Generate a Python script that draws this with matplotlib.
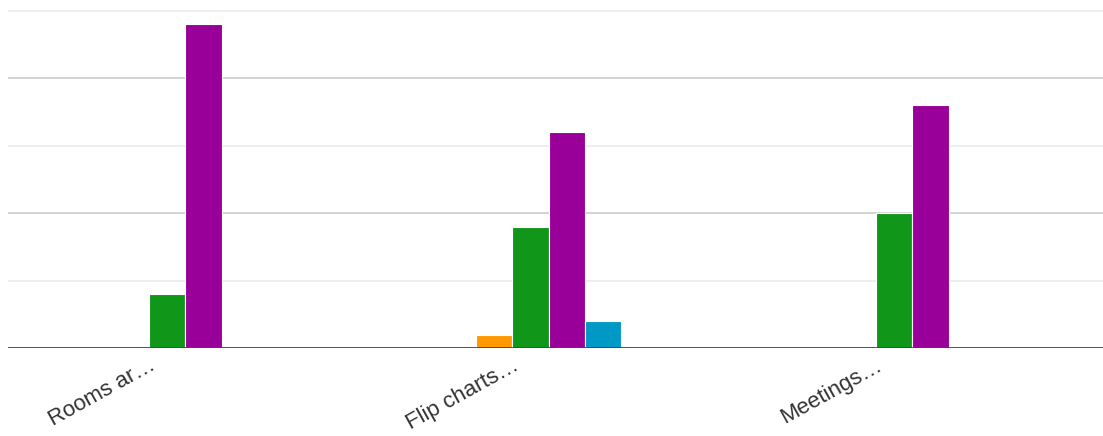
import numpy as np
import matplotlib.pyplot as plt

plt.rcParams['font.family'] = ['Liberation Sans', 'DejaVu Sans']

categories = ['Rooms ar\u2026', 'Flip charts\u2026', 'Meetings\u2026']

# one list per answer option, in the order they sit inside each group
option_1 = [0, 0, 0]
option_2 = [0, 0, 0]
option_3 = [0, 1, 0]
option_4 = [4, 9, 10]
option_5 = [24, 16, 18]
option_6 = [0, 2, 0]

series = [option_1, option_2, option_3, option_4, option_5, option_6]
colors = ['#3366cc', '#dc3912', '#ff9900', '#109618', '#990099', '#0099c6']

fig = plt.figure(figsize=(11.03, 4.36), dpi=100)
ax = fig.add_axes([0.0073, 0.2018, 0.9927, 0.7982])

x = np.arange(len(categories))
width = 0.1
n = len(series)
for k, (vals, col) in enumerate(zip(series, colors)):
    offs = (k - (n - 1) / 2) * width
    for xi, v in zip(x, vals):
        if v > 0:
            ax.bar(xi + offs, v, width=width, color=col,
                   edgecolor='white', linewidth=0.8, zorder=2)

ax.set_ylim(0, 25.78)
ax.set_xlim(-0.388, 2.625)

# gridlines: darker every 10, lighter in between
for y in [5, 15, 25]:
    ax.axhline(y, color='#ebebeb', linewidth=1.2, zorder=1)
for y in [10, 20]:
    ax.axhline(y, color='#cccccc', linewidth=1.2, zorder=1)
ax.axhline(0, color='#444444', linewidth=2.0, zorder=3)

for s in ax.spines.values():
    s.set_visible(False)
ax.set_yticks([])
ax.set_xticks(x)
ax.set_xticklabels(categories, rotation=29, ha='right',
                   rotation_mode='anchor', fontsize=16, color='#333333')
ax.tick_params(axis='x', length=0, pad=5)

fig.savefig('out.png', dpi=100)
